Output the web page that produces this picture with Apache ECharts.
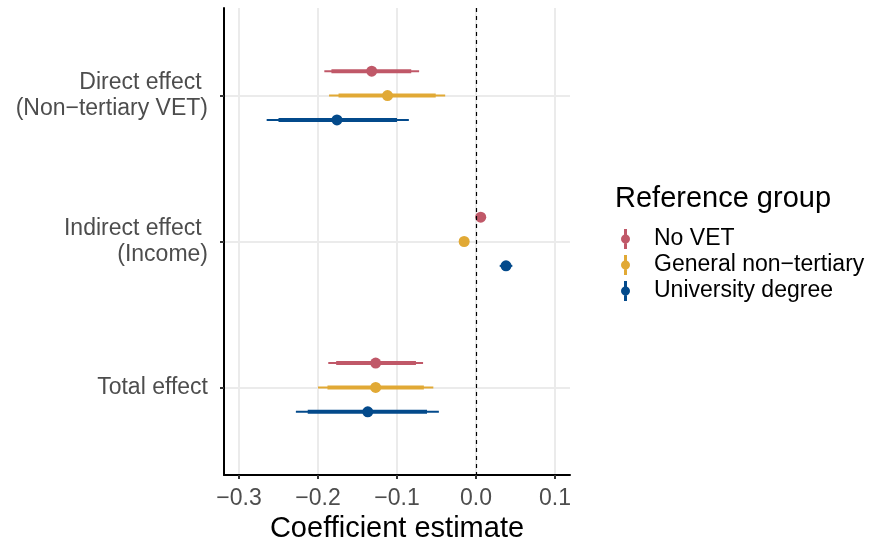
<!DOCTYPE html>
<html>
<head>
<meta charset="utf-8">
<script src="https://cdn.jsdelivr.net/npm/echarts@6/dist/echarts.min.js"></script>
<style>
  html, body { margin: 0; padding: 0; background: #fff; }
  #chart { width: 874px; height: 544px; }
</style>
</head>
<body>
<div id="chart"></div>
<script>
const categories = ['Direct effect \n(Non\u2212tertiary VET)', 'Indirect effect \n(Income)', 'Total effect']
const groups = ['No VET', 'General non\u2212tertiary', 'University degree']
const colors = ['#c05868', '#e1a935', '#034a8b']
const xTicks = [-0.3, -0.2, -0.1, 0, 0.1]

// point estimates per group, one value per category
const noVetEst = [-0.132, 0.006, -0.127]
const generalEst = [-0.112, -0.015, -0.127]
const uniEst = [-0.176, 0.038, -0.137]

// inner (thick) interval
const noVetInner = [[-0.183, -0.082], [0.005, 0.007], [-0.177, -0.076]]
const generalInner = [[-0.174, -0.051], [-0.016, -0.014], [-0.188, -0.066]]
const uniInner = [[-0.250, -0.100], [0.032, 0.044], [-0.213, -0.062]]

// outer (thin) interval
const noVetOuter = [[-0.192, -0.072], [0.004, 0.008], [-0.187, -0.067]]
const generalOuter = [[-0.186, -0.039], [-0.017, -0.013], [-0.200, -0.054]]
const uniOuter = [[-0.265, -0.085], [0.030, 0.046], [-0.228, -0.047]]

const ests = [noVetEst, generalEst, uniEst]
const inners = [noVetInner, generalInner, uniInner]
const outers = [noVetOuter, generalOuter, uniOuter]
const dodge = [-0.167, 0, 0.167]

const fontFamily = 'Liberation Sans, Arial, sans-serif'
// vertical pointrange glyph: bar + dot (both clockwise so they don't cancel)
const legendIcon = 'path://M3,0h3v20h-3z M0,10a4.5,4.5 0 1,1 9,0a4.5,4.5 0 1,1 -9,0z'

function buildSeries (g) {
  const data = []
  for (let i = 0; i < categories.length; i++) {
    data.push([ests[g][i], i + 1 + dodge[g], outers[g][i][0], outers[g][i][1], inners[g][i][0], inners[g][i][1]])
  }
  return {
    name: groups[g],
    type: 'custom',
    coordinateSystem: 'cartesian2d',
    itemStyle: { color: colors[g] },
    encode: { x: [0, 2, 3, 4, 5], y: 1 },
    renderItem: function (params, api) {
      const y = api.value(1)
      const c = colors[g]
      const pt = api.coord([api.value(0), y])
      const o1 = api.coord([api.value(2), y])
      const o2 = api.coord([api.value(3), y])
      const i1 = api.coord([api.value(4), y])
      const i2 = api.coord([api.value(5), y])
      return {
        type: 'group',
        children: [
          { type: 'line', shape: { x1: o1[0], y1: o1[1], x2: o2[0], y2: o2[1] }, style: { stroke: c, lineWidth: 2 } },
          { type: 'line', shape: { x1: i1[0], y1: i1[1], x2: i2[0], y2: i2[1] }, style: { stroke: c, lineWidth: 4 } },
          { type: 'circle', shape: { cx: pt[0], cy: pt[1], r: 5.5 }, style: { fill: c } }
        ]
      }
    },
    data: data
  }
}

const series = [0, 1, 2].map(buildSeries)
series[0].markLine = {
  silent: true,
  symbol: 'none',
  label: { show: false },
  lineStyle: { color: '#000', type: [4, 4], width: 1.2 },
  data: [{ xAxis: 0 }]
}

const chart = echarts.init(document.getElementById('chart'))
chart.setOption({
  animation: false,
  title: {
    text: 'Reference group',
    left: 610,
    top: 179,
    textStyle: { color: '#000', fontSize: 29, lineHeight: 30, fontWeight: 'normal', fontFamily: fontFamily }
  },
  legend: {
    orient: 'vertical',
    left: 616,
    top: 221,
    itemWidth: 9,
    itemHeight: 20,
    itemGap: 0,
    icon: legendIcon,
    textStyle: { color: '#000', fontSize: 23, lineHeight: 26, fontFamily: fontFamily, padding: [0, 0, 0, 19] },
    data: groups
  },
  grid: { left: 224, top: 8, width: 346, height: 467, containLabel: false, outerBoundsMode: 'none' },
  xAxis: {
    type: 'value',
    min: -0.319,
    max: 0.119,
    name: 'Coefficient estimate',
    nameLocation: 'middle',
    nameGap: 37,
    nameTextStyle: { color: '#000', fontSize: 29, fontFamily: fontFamily },
    axisLine: { show: true, onZero: false, lineStyle: { color: '#000', width: 2 } },
    axisTick: { show: true, customValues: xTicks, length: 4, lineStyle: { color: '#333', width: 2 } },
    axisLabel: {
      customValues: xTicks,
      margin: 12,
      color: '#4d4d4d',
      fontSize: 23,
      fontFamily: fontFamily,
      formatter: function (v) { return (v < 0 ? '\u2212' : '') + Math.abs(v).toFixed(1) }
    },
    splitLine: { show: true, lineStyle: { color: '#ebebeb', width: 2 } }
  },
  yAxis: {
    type: 'value',
    min: 0.4,
    max: 3.6,
    inverse: true,
    axisLine: { show: true, onZero: false, lineStyle: { color: '#000', width: 2 } },
    axisTick: { show: true, customValues: [1, 2, 3], length: 4, lineStyle: { color: '#333', width: 2 } },
    axisLabel: {
      customValues: [1, 2, 3],
      margin: 16,
      align: 'right',
      color: '#4d4d4d',
      fontSize: 23,
      lineHeight: 26,
      fontFamily: fontFamily,
      formatter: function (v) { return categories[Math.round(v) - 1] || '' }
    },
    splitLine: { show: true, lineStyle: { color: '#ebebeb', width: 2 } }
  },
  series: series
})
</script>
</body>
</html>
